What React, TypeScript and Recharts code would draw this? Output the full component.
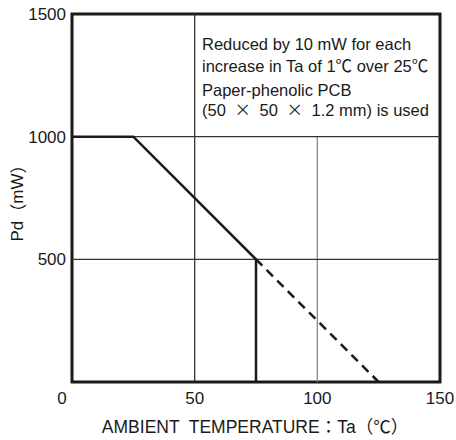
import { LineChart, Line, XAxis, YAxis, ReferenceLine, ReferenceArea } from 'recharts'

// Pd derating curve
const solidTemp = [0, 25, 75, 75]
const solidPd = [1000, 1000, 500, 0]
const dashedTemp = [75, 125]
const dashedPd = [500, 0]

const xTicks = [0, 50, 100, 150]
const yTicks = [500, 1000, 1500]

const solidData = solidTemp.map((t, i) => ({ t, pd: solidPd[i] }))
const dashedData = dashedTemp.map((t, i) => ({ t, pd: dashedPd[i] }))

const FONT = '"Liberation Sans", Arial, "Noto Sans CJK JP", sans-serif'
const CJK = '"Noto Sans CJK JP", sans-serif'
const INK = '#1a1a1a'

function XTick(props: any) {
  const { x, y, payload } = props
  const dx = payload.value === 0 ? -10 : 0
  return (
    <text x={x + dx} y={y} dy="0.8em" textAnchor="middle" fill={INK} fontSize={17} fontFamily={FONT}>
      {payload.value}
    </text>
  )
}

export default function App() {
  return (
    <div style={{ width: 456, height: 440, background: '#fff' }}>
      <style>{'body{margin:0}'}</style>
      <LineChart width={456} height={440} margin={{ top: 14, right: 16, bottom: 0, left: 0 }}>
        <XAxis
          type="number"
          dataKey="t"
          domain={[0, 150]}
          ticks={xTicks}
          height={58}
          axisLine={false}
          tickLine={false}
          tickSize={0}
          tickMargin={8}
          tick={<XTick />}
          allowDataOverflow
        />
        <YAxis
          type="number"
          dataKey="pd"
          domain={[0, 1500]}
          ticks={yTicks}
          width={72}
          axisLine={false}
          tickLine={false}
          tickSize={0}
          tickMargin={6}
          tick={{ fill: INK, fontSize: 17, fontFamily: FONT }}
        />
        <ReferenceLine x={50} stroke="#333" strokeWidth={1.3} />
        <ReferenceLine segment={[{ x: 100, y: 0 }, { x: 100, y: 1000 }]} stroke="#888" strokeWidth={1.3} />
        <ReferenceLine y={500} stroke="#333" strokeWidth={1.3} />
        <ReferenceLine y={1000} stroke="#333" strokeWidth={1.3} />
        <ReferenceArea x1={0} x2={150} y1={0} y2={1500} fill="none" stroke={INK} strokeWidth={3} />
        <Line
          data={solidData}
          dataKey="pd"
          stroke={INK}
          strokeWidth={2.5}
          dot={false}
          isAnimationActive={false}
        />
        <Line
          data={dashedData}
          dataKey="pd"
          stroke={INK}
          strokeWidth={2.5}
          strokeDasharray="9 6"
          dot={false}
          isAnimationActive={false}
        />
        <g fontFamily={FONT} fill={INK} fontSize={16.5}>
          <text x={202} y={50}>Reduced by 10 mW for each</text>
          <text x={202} y={72}>increase in Ta of 1℃ over 25℃</text>
          <text x={202} y={96}>Paper-phenolic PCB</text>
          <text x={202} y={116}>
            (50 <tspan fontFamily={CJK} dx={4}>×</tspan><tspan dx={4}> 50 </tspan>
            <tspan fontFamily={CJK} dx={4}>×</tspan><tspan dx={4}> 1.2 mm) is used</tspan>
          </text>
          <text x={17} y={199} fontSize={17} textAnchor="middle" dominantBaseline="central" transform="rotate(-90 17 199)">
            Pd<tspan fontFamily={CJK}>（</tspan>mW<tspan fontFamily={CJK}>）</tspan>
          </text>
          <text x={255} y={433} fontSize={17.5} textAnchor="middle" xmlSpace="preserve">
            {'AMBIENT  TEMPERATURE'}
            <tspan fontFamily={CJK}>：</tspan>Ta<tspan fontFamily={CJK}>（℃）</tspan>
          </text>
        </g>
      </LineChart>
    </div>
  )
}
